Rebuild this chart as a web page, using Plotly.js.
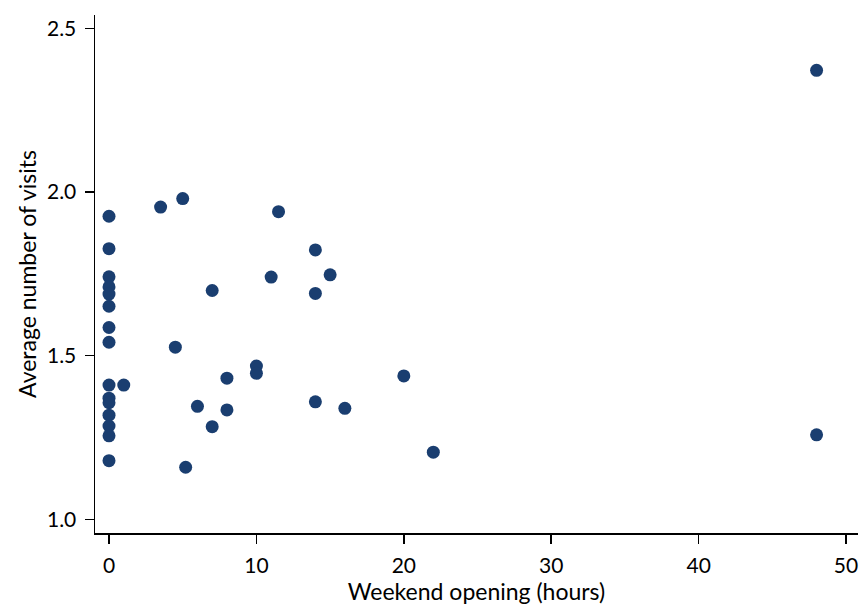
<!DOCTYPE html>
<html>
<head>
<meta charset="utf-8">
<script src="https://cdn.plot.ly/plotly-3.0.1.min.js"></script>
<style>html,body{margin:0;padding:0;background:#fff;}#chart{width:860px;height:606px;}</style>
</head>
<body>
<div id="chart"></div>
<script>
const weekendHours = [0,0,0,0,0,0,0,0,0,0,0,0,0,0,0,
  1,3.5,5,11.5,14,15,11,14,7,4.5,10,10,8,20,6,8,14,16,7,22,5.2,48,48];
const avgVisits = [1.926,1.827,1.741,1.710,1.688,1.651,1.586,1.541,1.410,1.370,1.356,1.318,1.285,1.255,1.179,
  1.410,1.954,1.980,1.940,1.823,1.747,1.740,1.690,1.699,1.526,1.468,1.446,1.431,1.438,1.345,1.334,1.359,1.339,1.283,1.205,1.159,2.372,1.258];
const xTicks = [0,10,20,30,40,50];
const yTicks = [1.0,1.5,2.0,2.5];
const yTickText = ['1.0','1.5','2.0','2.5'];

const trace = {
  x: weekendHours, y: avgVisits, type: 'scatter', mode: 'markers',
  marker: {color: '#1a3e70', size: 13, line: {width: 0}}
};
const layout = {
  width: 860, height: 606,
  margin: {l: 95, r: 2, t: 15, b: 73},
  paper_bgcolor: '#fff', plot_bgcolor: '#fff',
  font: {family: 'Lato, sans-serif', color: '#000', size: 21},
  showlegend: false,
  xaxis: {
    range: [-0.95, 50.81], tickvals: xTicks, ticks: 'outside', ticklen: 9, tickwidth: 1.5, tickcolor: '#000',
    showline: true, linecolor: '#000', linewidth: 1.5, showgrid: false, zeroline: false,
    tickfont: {size: 21}, ticklabelstandoff: 4,
    title: {text: 'Weekend opening (hours)', font: {size: 23}, standoff: 6}
  },
  yaxis: {
    range: [0.958, 2.541], tickvals: yTicks, ticktext: yTickText, ticks: 'outside', ticklen: 9, tickwidth: 1.5, tickcolor: '#000',
    showline: true, linecolor: '#000', linewidth: 1.5, showgrid: false, zeroline: false,
    tickfont: {size: 21}, ticklabelstandoff: 4,
    title: {text: 'Average number of visits', font: {size: 23}, standoff: 4}
  }
};
Plotly.newPlot('chart', [trace], layout, {displayModeBar: false, staticPlot: true});
</script>
</body>
</html>
